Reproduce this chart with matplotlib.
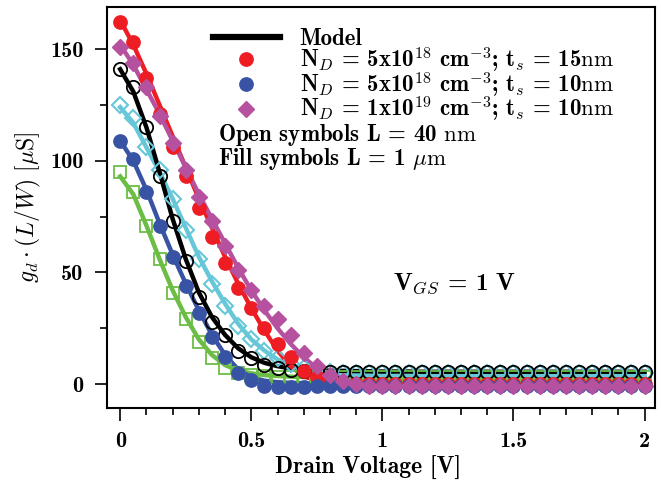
import numpy as np
import matplotlib
matplotlib.use('Agg')
import matplotlib.pyplot as plt
from matplotlib.lines import Line2D
from matplotlib.ticker import MultipleLocator

plt.rcParams['mathtext.fontset'] = 'cm'
plt.rcParams['font.family'] = 'cmb10'
plt.rcParams['axes.unicode_minus'] = False

# Drain voltage grid [V]
vd = [0.00, 0.05, 0.10, 0.15, 0.20, 0.25, 0.30, 0.35, 0.40, 0.45,
      0.50, 0.55, 0.60, 0.65, 0.70, 0.75, 0.80, 0.85, 0.90, 0.95,
      1.00, 1.05, 1.10, 1.15, 1.20, 1.25, 1.30, 1.35, 1.40, 1.45,
      1.50, 1.55, 1.60, 1.65, 1.70, 1.75, 1.80, 1.85, 1.90, 1.95, 2.00]

# measured gd*(L/W) [uS], filled symbols (L = 1 um)
red_pts = [162, 153, 137, 121, 106, 93, 79, 66, 54, 43,
           34, 25, 18, 12, 6, 3, 1, 0, 0, 0,
           0, 0, 0, 0, 0, 0, 0, 0, 0, 0,
           0, 0, 0, 0, 0, 0, 0, 0, 0, 0, 0]
blue_pts = [109, 101, 86, 71, 57, 44, 32, 21, 12, 5,
            2, -1, -1.5, -1.5, -1.5, -1, -1, -1, -1, -1,
            -1, -1, -1, -1, -1, -1, -1, -1, -1, -1,
            -1, -1, -1, -1, -1, -1, -1, -1, -1, -1, -1]
mag_pts = [151, 144, 133, 120, 108, 96, 84, 73, 62, 51,
           42, 35, 29, 22, 14, 8, 4, 1.5, 0, -1,
           -1, -1, -1, -1, -1, -1, -1, -1, -1, -1,
           -1, -1, -1, -1, -1, -1, -1, -1, -1, -1, -1]
# open symbols (L = 40 nm)
blk_pts = [141, 133, 115, 93, 73, 55, 39, 28, 22, 15,
           11.5, 8.5, 7, 6.5, 6, 6, 5.5, 5.5, 5.5, 5.5,
           5.5, 5.5, 5.5, 5.5, 5.5, 5.5, 5.5, 5.5, 5.5, 5.5,
           5.5, 5.5, 5.5, 5.5, 5.5, 5.5, 5.5, 5.5, 5.5, 5.5, 5.5]
cyan_pts = [125, 119, 106, 96, 83, 69, 56, 45, 35, 26,
            20, 15, 11.5, 9, 7, 6, 5.5, 5, 5, 5,
            5, 5, 5, 5, 5, 5, 5, 5, 5, 5,
            5, 5, 5, 5, 5, 5, 5, 5, 5, 5, 5]
grn_pts = [95, 86, 71, 56, 41, 29, 19, 11.5, 7, 5,
           4, 3.5, 3, 3, 3, 3, 3, 3, 3, 3,
           3, 3, 3, 3, 3, 3, 3, 3, 3, 3,
           3, 3, 3, 3, 3, 3, 3, 3, 3, 3, 3]

# model curves
red_mod = [163, 152, 139, 125, 111, 97, 83, 70, 57, 45,
           34, 24, 15, 8, 3.5, 1.5, 0.8, 0.5, 0.3, 0.2,
           0.2, 0.2, 0.2, 0.2, 0.2, 0.2, 0.2, 0.2, 0.2, 0.2,
           0.2, 0.2, 0.2, 0.2, 0.2, 0.2, 0.2, 0.2, 0.2, 0.2, 0.2]
blue_mod = [109, 100, 87, 72, 58, 45, 33, 22, 13, 6.5,
            3, 1.5, 0.8, 0.5, 0.4, 0.3, 0.3, 0.3, 0.3, 0.3,
            0.3, 0.3, 0.3, 0.3, 0.3, 0.3, 0.3, 0.3, 0.3, 0.3,
            0.3, 0.3, 0.3, 0.3, 0.3, 0.3, 0.3, 0.3, 0.3, 0.3, 0.3]
mag_mod = [152, 143, 132, 121, 109, 97, 85, 74, 63, 52,
           42, 33, 25, 18, 12, 7, 4, 2.5, 1.8, 1.5,
           1.3, 1.2, 1.1, 1.0, 1.0, 0.9, 0.9, 0.9, 0.8, 0.8,
           0.8, 0.7, 0.7, 0.7, 0.6, 0.6, 0.6, 0.6, 0.5, 0.5, 0.5]
blk_mod = [141, 131, 115, 95, 74, 56, 41, 30, 22, 16,
           12, 9.5, 8, 7, 6.5, 6.2, 6, 5.9, 5.8, 5.7,
           5.6, 5.6, 5.6, 5.5, 5.5, 5.5, 5.5, 5.5, 5.5, 5.5,
           5.5, 5.5, 5.5, 5.5, 5.5, 5.5, 5.5, 5.5, 5.5, 5.5, 5.5]
cyan_mod = [124, 117, 106, 95, 83, 70, 57, 46, 36, 27,
            20, 15, 11, 8.5, 7, 6, 5, 4.5, 4.2, 4,
            3.9, 3.8, 3.8, 3.7, 3.7, 3.7, 3.6, 3.6, 3.6, 3.6,
            3.5, 3.5, 3.5, 3.5, 3.5, 3.5, 3.5, 3.5, 3.5, 3.5, 3.5]
grn_mod = [93, 85, 71, 56, 42, 30, 20, 13, 8.5, 6,
           4.8, 4, 3.6, 3.3, 3.1, 3, 3, 2.9, 2.9, 2.9,
           2.8, 2.8, 2.8, 2.8, 2.8, 2.8, 2.7, 2.7, 2.7, 2.7,
           2.7, 2.7, 2.7, 2.7, 2.7, 2.7, 2.7, 2.7, 2.7, 2.7, 2.7]

RED = '#ee1d23'
BLUE = '#3853a4'
MAG = '#b5519f'
CYAN = '#66c7d9'
GRN = '#6cbd45'

tick_fs = 16
lab_fs = 17
leg_fs = 16.5
fig = plt.figure(figsize=(6.61, 4.83), dpi=100)
ax = fig.add_axes([0.162, 0.155, 0.829, 0.831])

lw = 3.2
ms = 9.6
# open symbols series (L = 40 nm)
ax.plot(vd, grn_mod, '-', color=GRN, lw=lw, zorder=2)
ax.plot(vd, grn_pts, 's', mfc='none', mec=GRN, mew=1.3, ms=ms - 0.3, zorder=3)
ax.plot(vd, cyan_mod, '-', color=CYAN, lw=lw, zorder=2)
ax.plot(vd, cyan_pts, 'D', mfc='none', mec=CYAN, mew=1.5, ms=ms - 1.5, zorder=3)
ax.plot(vd, blk_mod, '-', color='k', lw=lw, zorder=2)
ax.plot(vd, blk_pts, 'o', mfc='none', mec='k', mew=1.3, ms=ms, zorder=3)
# filled symbols series (L = 1 um)
ax.plot(vd, red_pts, 'o', color=RED, ms=ms, zorder=3)
ax.plot(vd, red_mod, '-', color=RED, lw=lw, zorder=2)
ax.plot(vd, blue_mod, '-', color=BLUE, lw=lw, zorder=2)
ax.plot(vd, blue_pts, 'o', color=BLUE, ms=ms, zorder=3)
ax.plot(vd, mag_pts, 'D', color=MAG, ms=ms - 1.5, zorder=3)
ax.plot(vd, mag_mod, '-', color=MAG, lw=lw, zorder=2)

ax.set_xlim(-0.05, 2.04)
ax.set_ylim(-10.8, 169)
ax.xaxis.set_minor_locator(MultipleLocator(0.1))
ax.yaxis.set_major_locator(MultipleLocator(50))
ax.yaxis.set_minor_locator(MultipleLocator(25))
ax.set_xticks([0, 0.5, 1, 1.5, 2])
ax.set_xticklabels(['0', '0.5', '1', '1.5', '2'])
ax.tick_params(which='major', direction='out', length=9, width=1.2, labelsize=tick_fs, pad=8)
ax.tick_params(which='minor', direction='out', length=5, width=1.2)
for s in ax.spines.values():
    s.set_linewidth(1.5)

ax.set_xlabel('Drain Voltage [V]', fontsize=lab_fs)
ax.xaxis.set_label_coords(0.476, -0.12)
ax.set_ylabel(r'$g_d \cdot (L/W)\ [\mu\mathrm{S}]$', fontsize=17, labelpad=5)

handles = [Line2D([], [], color='k', lw=4.5),
           Line2D([], [], ls='none', marker='o', color=RED, ms=ms),
           Line2D([], [], ls='none', marker='o', color=BLUE, ms=ms),
           Line2D([], [], ls='none', marker='D', color=MAG, ms=ms - 1.5)]
labels = ['Model',
          r'N$_D$ = 5x10$^{18}$ cm$^{-3}$; t$_s$ = 15$\mathrm{nm}$',
          r'N$_D$ = 5x10$^{18}$ cm$^{-3}$; t$_s$ = 10$\mathrm{nm}$',
          r'N$_D$ = 1x10$^{19}$ cm$^{-3}$; t$_s$ = 10$\mathrm{nm}$']
ax.legend(handles, labels, loc='upper left', bbox_to_anchor=(0.18, 0.965),
          frameon=False, fontsize=leg_fs, handlelength=2.93, handletextpad=0.87,
          labelspacing=-0.19, numpoints=1, borderpad=0.3, borderaxespad=0)

ax.text(0.2026, 0.681, r'Open symbols L = 40 $\mathrm{nm}$', transform=ax.transAxes,
        fontsize=leg_fs, va='center')
ax.text(0.2026, 0.621, r'Fill symbols L = 1 $\mu\mathrm{m}$', transform=ax.transAxes,
        fontsize=leg_fs, va='center')
ax.text(1.04, 45, r'V$_{GS}$ = 1 V', fontsize=18, va='center')

plt.savefig('out.png', dpi=100)
